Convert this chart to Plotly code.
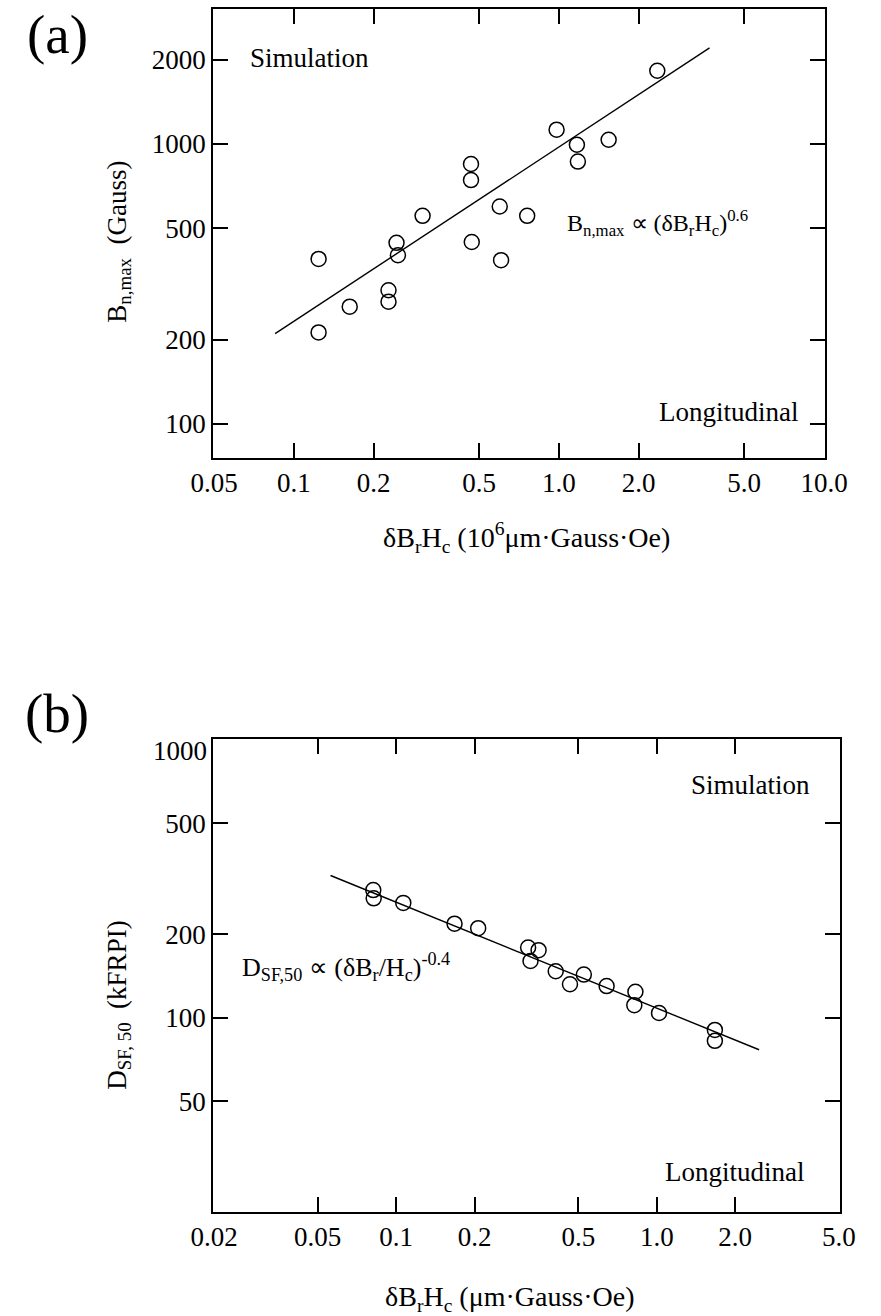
import math
import plotly.graph_objects as go

# ---------------- data: panel (a) ----------------
a_x = [0.124, 0.124, 0.1625, 0.2276, 0.2276, 0.244, 0.247, 0.306, 0.466, 0.466,
       0.469, 0.598, 0.605, 0.759, 0.98, 1.169, 1.179, 1.54, 2.35]
a_y = [388, 212, 262, 300, 273, 443, 400, 553, 847, 742,
       446, 597, 384, 553, 1123, 992, 864, 1034, 1824]
a_fit_x = [0.085, 3.7]
a_fit_y = [210, 2200]
a_xticks = [0.05, 0.1, 0.2, 0.5, 1.0, 2.0, 5.0, 10.0]
a_xticktext = ["0.05", "0.1", "0.2", "0.5", "1.0", "2.0", "5.0", "10.0"]
a_yticks = [100, 200, 500, 1000, 2000]
a_yticktext = ["100", "200", "500", "1000", "2000"]

# ---------------- data: panel (b) ----------------
b_x = [0.0817, 0.082, 0.1065, 0.1675, 0.2064, 0.3209, 0.352, 0.3277, 0.4095,
       0.4645, 0.525, 0.642, 0.828, 0.82, 1.02, 1.671, 1.671]
b_y = [288, 269, 259, 218, 210, 179, 175, 160, 147,
       132, 143, 130, 124, 111, 104, 90.4, 82.6]
b_fit_x = [0.056, 2.47]
b_fit_y = [325, 76.7]
b_xticks = [0.02, 0.05, 0.1, 0.2, 0.5, 1.0, 2.0, 5.0]
b_xticktext = ["0.02", "0.05", "0.1", "0.2", "0.5", "1.0", "2.0", "5.0"]
b_yticks = [50, 100, 200, 500, 1000]
b_yticktext = ["50", "100", "200", "500", ""]   # "1000" is placed just below the top edge

W, H = 881, 1316
FONT = "Liberation Serif"


def px(x):
    return x / W


def py(y):
    return 1 - y / H


fig = go.Figure()

marker = dict(symbol="circle-open", size=15, color="black", line=dict(width=1.5, color="black"))

fig.add_trace(go.Scatter(x=a_fit_x, y=a_fit_y, mode="lines", line=dict(color="black", width=1.4),
                         xaxis="x", yaxis="y", showlegend=False, hoverinfo="skip"))
fig.add_trace(go.Scatter(x=a_x, y=a_y, mode="markers", marker=marker,
                         xaxis="x", yaxis="y", showlegend=False))
fig.add_trace(go.Scatter(x=b_fit_x, y=b_fit_y, mode="lines", line=dict(color="black", width=1.4),
                         xaxis="x2", yaxis="y2", showlegend=False, hoverinfo="skip"))
fig.add_trace(go.Scatter(x=b_x, y=b_y, mode="markers", marker=marker,
                         xaxis="x2", yaxis="y2", showlegend=False))

common = dict(type="log", ticks="inside", ticklen=15, tickwidth=1.5, tickcolor="black",
              showline=True, linewidth=2, linecolor="black", mirror="ticks",
              showgrid=False, zeroline=False,
              tickfont=dict(family=FONT, size=27, color="black"))

eps = 0.003
fig.update_layout(
    width=W, height=H,
    margin=dict(l=0, r=0, t=0, b=0),
    paper_bgcolor="white", plot_bgcolor="white",
    xaxis=dict(domain=[px(200.7), px(846)],
               range=[math.log10(0.05) - eps, math.log10(10) + eps],
               tickvals=a_xticks, ticktext=a_xticktext, anchor="y", **common),
    yaxis=dict(domain=[py(458), py(9)],
               range=[math.log10(75.5), math.log10(3030)],
               tickvals=a_yticks, ticktext=a_yticktext, anchor="x", **common),
    xaxis2=dict(domain=[px(200.7), px(861.7)],
                range=[math.log10(0.02) - eps, math.log10(5) + eps],
                tickvals=b_xticks, ticktext=b_xticktext, anchor="y2", **common),
    yaxis2=dict(domain=[py(1212), py(739)],
                range=[math.log10(20), math.log10(1000) + eps],
                tickvals=b_yticks, ticktext=b_yticktext, anchor="x2", **common),
)

tf = dict(family=FONT, size=27, color="black")
ann = [
    dict(text="(a)", x=px(36), y=py(34), font=dict(family=FONT, size=55, color="black")),
    dict(text="(b)", x=px(36), y=py(713), font=dict(family=FONT, size=55, color="black")),
    dict(text="Simulation", x=px(237), y=py(58), xanchor="left", font=tf),
    dict(text="Longitudinal", x=px(820), y=py(412), xanchor="right", font=tf),
    dict(text="B<sub>n,max</sub> \u221d (\u03b4B<sub>r</sub>H<sub>c</sub>)<sup>0.6</sup>",
         x=px(572), y=py(223), xanchor="left", font=dict(family=FONT, size=24, color="black")),
    dict(text="\u03b4B<sub>r</sub>H<sub>c</sub> (10<sup>6</sup>\u03bcm\u00b7Gauss\u00b7Oe)",
         x=px(531), y=py(537), font=dict(family=FONT, size=28, color="black")),
    dict(text="B<sub>n,max</sub>  (Gauss)", x=px(101), y=py(242), textangle=-90,
         font=dict(family=FONT, size=27, color="black")),
    dict(text="1000", x=px(196), y=py(751), xanchor="right", font=tf),
    dict(text="Simulation", x=px(832), y=py(785), xanchor="right", font=tf),
    dict(text="Longitudinal", x=px(826), y=py(1172), xanchor="right", font=tf),
    dict(text="D<sub>SF,50</sub> \u221d (\u03b4B<sub>r</sub>/H<sub>c</sub>)<sup>-0.4</sup>",
         x=px(229), y=py(967), xanchor="left", font=dict(family=FONT, size=26, color="black")),
    dict(text="\u03b4B<sub>r</sub>H<sub>c</sub> (\u03bcm\u00b7Gauss\u00b7Oe)",
         x=px(514), y=py(1298), font=dict(family=FONT, size=28, color="black")),
    dict(text="D<sub>SF, 50</sub>  (kFRPI)", x=px(101), y=py(1005), textangle=-90,
         font=dict(family=FONT, size=27, color="black")),
]
for a in ann:
    a.setdefault("xanchor", "center")
    a.update(xref="paper", yref="paper", yanchor="middle", showarrow=False)
fig.update_layout(annotations=ann)

fig.write_html("out.html")
